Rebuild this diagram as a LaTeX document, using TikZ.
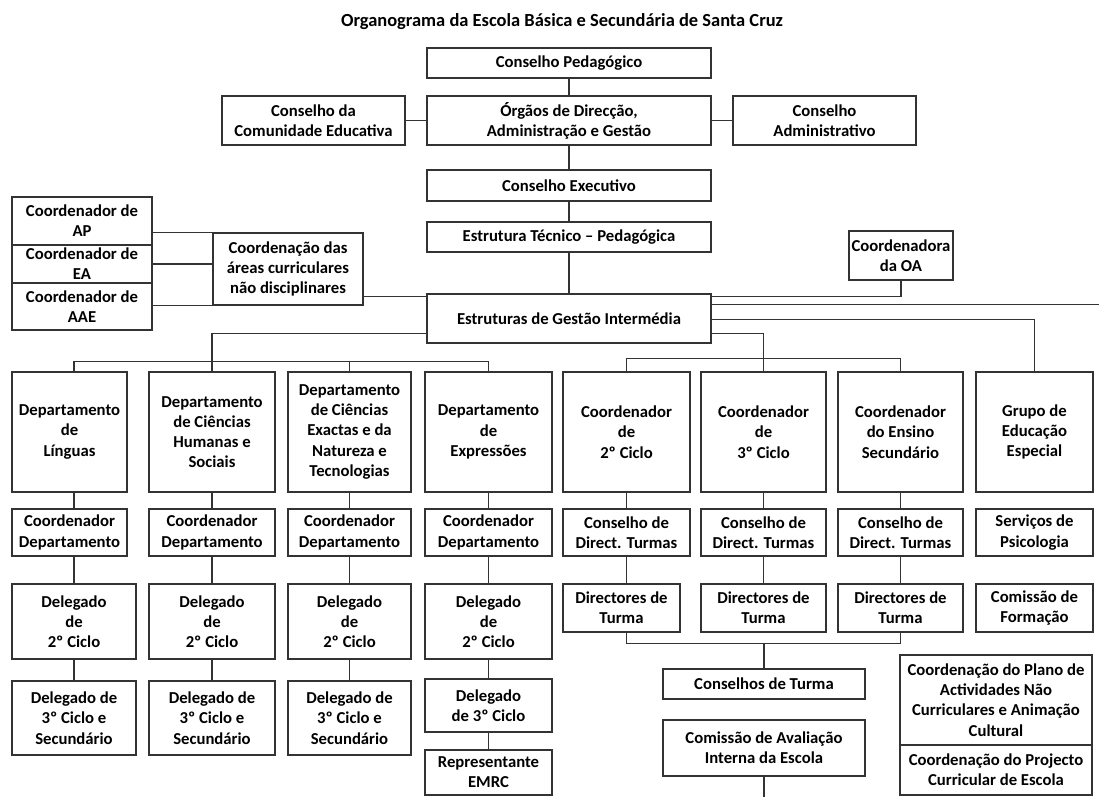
\documentclass[tikz,border=0pt]{standalone}
\usepackage{fontspec}
\setmainfont{Carlito}

\tikzset{
	box/.style = {draw = black!80, line width = 0.8pt, inner sep = 1pt, align = center,
		font = \bfseries\fontsize{9.5}{11.5}\selectfont},
	sz/.style 2 args = {minimum width = #1*0.02cm, minimum height = #2*0.02cm},
}

\begin{document}
\begin{tikzpicture}[x = 0.02cm, y = -0.02cm, line width = 0.8pt, draw = black!80]

	\useasboundingbox (0, 0) rectangle (1099, 797);

	\node [font = \bfseries\fontsize{10.5}{12}\selectfont] (titulo) at (562, 22)
		{Organograma da Escola Básica e Secundária de Santa Cruz};

	% Direction bodies

	\node [box, sz = {284}{30}] (ped) at (569, 63) {Conselho Pedagógico};
	\node [box, sz = {183}{49}] (cce) at (313.5, 120.5) {Conselho da\\Comunidade Educativa};
	\node [box, sz = {284}{49}] (odag) at (569, 120.5) {Órgãos de Direcção,\\Administração e Gestão};
	\node [box, sz = {183}{49}] (cad) at (824.5, 120.5) {Conselho\\Administrativo};
	\node [box, sz = {284}{31}] (cex) at (569, 185.5) {Conselho Executivo};
	\node [box, sz = {284}{30}] (etp) at (569, 237) {Estrutura Técnico – Pedagógica};
	\node [box, sz = {104}{49}] (oa) at (901, 255.5) {Coordenadora\\da OA};
	\node [box, sz = {284}{49}] (estr) at (569, 318.5) {Estruturas de Gestão Intermédia};

	\draw (ped) -- (odag);
	\draw (odag) -- (cce);
	\draw (odag) -- (cad);
	\draw (odag) -- (cex);
	\draw (cex) -- (etp);
	\draw (etp) -- (estr);

	% Non-disciplinary areas

	\node [box, sz = {140}{48}] (ap) at (82, 221) {Coordenador de\\AP};
	\node [box, sz = {140}{38}] (ea) at (82, 264) {Coordenador de\\EA};
	\node [box, sz = {140}{47}] (aae) at (82, 306.5) {Coordenador de\\AAE};
	\node [box, sz = {150}{72}] (cadc) at (288, 269) {Coordenação das\\áreas curriculares\\não disciplinares};

	\draw (cadc.north west) -- (cadc.north west -| ap.east);
	\draw (ea.east) -- (ea.east -| cadc.west);
	\draw (cadc.south west) -- (cadc.south west -| aae.east);

	% Departments

	\begin{scope}[every node/.append style = {box}]
		\node [sz = {115}{120}] (lng) at (69.5, 432) {Departamento\\de\\Línguas};
		\node [sz = {126}{120}] (chs) at (212, 432) {Departamento\\de Ciências\\Humanas e\\Sociais};
		\node [sz = {123}{120}] (cen) at (349.5, 432) {Departamento\\de Ciências\\Exactas e da\\Natureza e\\Tecnologias};
		\node [sz = {127}{120}] (exp) at (488.5, 432) {Departamento\\de\\Expressões};

		\node [sz = {115}{47}] (cd1) at (69.5, 532.5) {Coordenador\\Departamento};
		\node [sz = {126}{47}] (cd2) at (212, 532.5) {Coordenador\\Departamento};
		\node [sz = {123}{47}] (cd3) at (349.5, 532.5) {Coordenador\\Departamento};
		\node [sz = {127}{47}] (cd4) at (488.5, 532.5) {Coordenador\\Departamento};

		\node [sz = {124}{75}] (d21) at (74, 621.5) {Delegado\\de\\2º Ciclo};
		\node [sz = {126}{75}] (d22) at (212, 621.5) {Delegado\\de\\2º Ciclo};
		\node [sz = {123}{75}] (d23) at (349.5, 621.5) {Delegado\\de\\2º Ciclo};
		\node [sz = {127}{75}] (d24) at (488.5, 621.5) {Delegado\\de\\2º Ciclo};

		\node [sz = {124}{74}] (d31) at (74, 718) {Delegado de\\3º Ciclo e\\Secundário};
		\node [sz = {126}{74}] (d32) at (212, 718) {Delegado de\\3º Ciclo e\\Secundário};
		\node [sz = {123}{74}] (d33) at (349.5, 718) {Delegado de\\3º Ciclo e\\Secundário};
		\node [sz = {127}{53}] (d34) at (488.5, 705.5) {Delegado\\de 3º Ciclo};
		\node [sz = {127}{45}] (emrc) at (488.5, 772.5) {Representante\\EMRC};
	\end{scope}

	\coordinate (el) at ([yshift = 0.2cm]estr.south west);
	\draw (el) -| (chs.north);
	\draw (lng.north -| d21.north) -- ++(0, -10) -| (exp.north);
	\draw (cen.north) -- ++(0, -10);

	\draw (lng.south -| d21.north) -- (cd1.north -| d21.north);
	\draw (cd1.south -| d21.north) -- (d21.north);
	\draw (d21) -- (d31);
	\foreach \c in {2, 3} {
		\draw (cd\c.north |- lng.south) -- (cd\c.north);
		\draw (cd\c) -- (d2\c);
		\draw (d2\c) -- (d3\c);
	}
	\draw (exp) -- (cd4);
	\draw (cd4) -- (d24);
	\draw (d24) -- (d34);
	\draw (d34) -- (emrc);

	% Cycle coordinators

	\begin{scope}[every node/.append style = {box}]
		\node [sz = {127}{120}] (c2) at (626.5, 432) {Coordenador\\de\\2º Ciclo};
		\node [sz = {125}{120}] (c3) at (763.5, 432) {Coordenador\\de\\3º Ciclo};
		\node [sz = {125}{120}] (cs) at (900.5, 432) {Coordenador\\do Ensino\\Secundário};
		\node [sz = {117}{120}] (gee) at (1034.5, 432) {Grupo de\\Educação\\Especial};

		\node [sz = {127}{47}] (cdt1) at (626.5, 532.5) {Conselho de\\Direct. Turmas};
		\node [sz = {125}{47}] (cdt2) at (763.5, 532.5) {Conselho de\\Direct. Turmas};
		\node [sz = {125}{47}] (cdt3) at (900.5, 532.5) {Conselho de\\Direct. Turmas};
		\node [sz = {117}{47}] (sps) at (1034.5, 532.5) {Serviços de\\Psicologia};

		\node [sz = {117}{48}] (dt1) at (621.5, 608) {Directores de\\Turma};
		\node [sz = {125}{48}] (dt2) at (763.5, 608) {Directores de\\Turma};
		\node [sz = {125}{48}] (dt3) at (900.5, 608) {Directores de\\Turma};
		\node [sz = {117}{48}] (cfo) at (1034.5, 608) {Comissão de\\Formação};

		\node [sz = {202}{30}] (ctu) at (764, 684) {Conselhos de Turma};
		\node [sz = {202}{56}] (caie) at (764, 748) {Comissão de Avaliação\\Interna da Escola};
		\node [sz = {192}{90}] (cpan) at (996, 700) {Coordenação do Plano de\\Actividades Não\\Curriculares e Animação\\Cultural};
		\node [sz = {192}{50}] (cpce) at (996, 770) {Coordenação do Projecto\\Curricular de Escola};
	\end{scope}

	\coordinate (er1) at ([yshift = -0.06cm]estr.north east);
	\coordinate (er2) at ([yshift = -0.22cm]estr.north east);
	\coordinate (er3) at ([yshift = 0.48cm]estr.south east);
	\coordinate (er4) at ([yshift = 0.2cm]estr.south east);
	\coordinate (el1) at ([yshift = -0.06cm]estr.north west);
	\coordinate (rim) at (1099, 0);
	\coordinate (fim) at (0, 797);

	\draw (el1) -- (el1 -| cadc.east);
	\draw (er1) -| (oa.south);
	\draw (er2) -- (er2 -| rim);
	\draw (er3) -| (gee.north);
	\draw (er4) -| (c3.north);
	\draw (c2.north) -- ++(0, -13) -| (cs.north);

	\foreach \c in {1, 2, 3} {
		\draw (c\ifnum\c=1 2\else\ifnum\c=2 3\else s\fi\fi.south) -- (cdt\c.north);
		\draw (cdt\c.south) -- (cdt\c.south |- dt\c.north);
	}
	\draw (dt1.south -| cdt1.south) -- ++(0, 11) coordinate (tb) -| (dt3.south);
	\draw (tb -| ctu.north) -- (ctu.north);
	\draw (caie.south) -- (caie.south |- fim);

\end{tikzpicture}
\end{document}
